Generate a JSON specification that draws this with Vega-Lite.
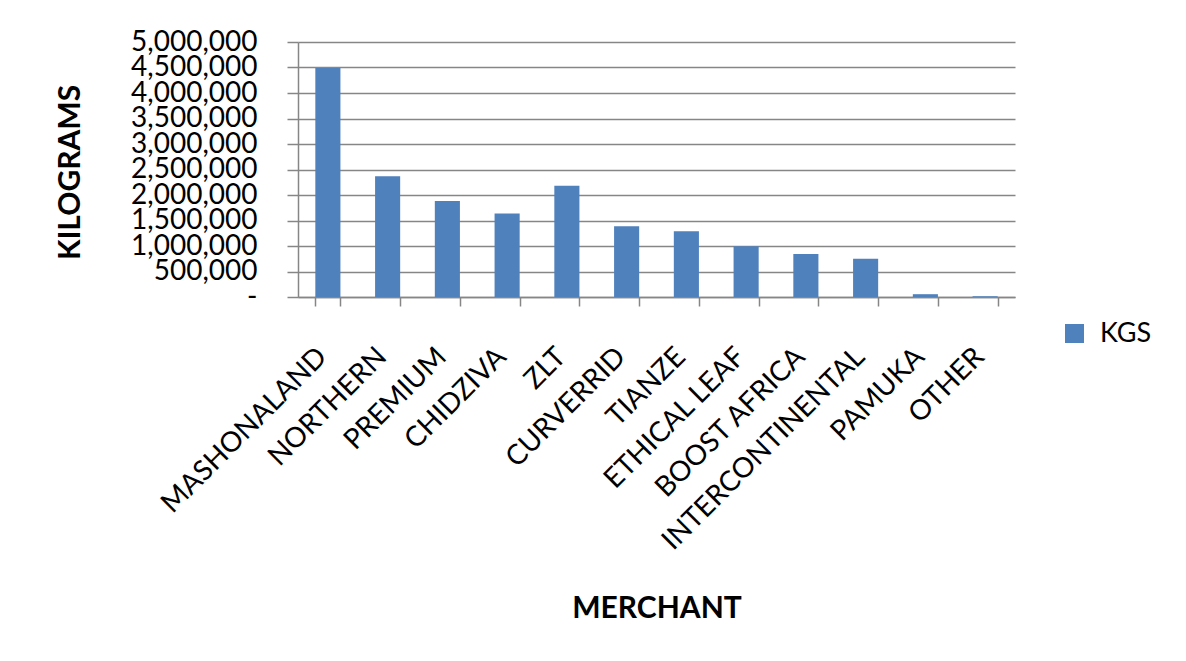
{
  "$schema": "https://vega.github.io/schema/vega-lite/v6.json",
  "width": 717,
  "height": 255,
  "autosize": {"type": "none"},
  "padding": {"left": 298, "top": 42, "right": 171, "bottom": 364},
  "background": "white",
  "data": {
    "values": [
      {"merchant": "MASHONALAND", "kgs": 4490000},
      {"merchant": "NORTHERN", "kgs": 2370000},
      {"merchant": "PREMIUM", "kgs": 1880000},
      {"merchant": "CHIDZIVA", "kgs": 1635000},
      {"merchant": "ZLT", "kgs": 2180000},
      {"merchant": "CURVERRID", "kgs": 1385000},
      {"merchant": "TIANZE", "kgs": 1290000},
      {"merchant": "ETHICAL LEAF", "kgs": 995000},
      {"merchant": "BOOST AFRICA", "kgs": 845000},
      {"merchant": "INTERCONTINENTAL", "kgs": 750000},
      {"merchant": "PAMUKA", "kgs": 55000},
      {"merchant": "OTHER", "kgs": 15000}
    ]
  },
  "mark": {"type": "bar"},
  "encoding": {
    "x": {
      "field": "merchant",
      "type": "nominal",
      "sort": null,
      "scale": {"paddingInner": 0.58, "paddingOuter": 0.29},
      "axis": {
        "title": "MERCHANT",
        "titleFont": "Lato",
        "titleFontSize": 30,
        "titleFontWeight": "bold",
        "titleColor": "black",
        "titleY": 320,
        "titleBaseline": "alphabetic",
        "labelFont": "Lato",
        "labelFontSize": 28,
        "labelColor": "black",
        "labelAngle": -45,
        "labelAlign": "right",
        "labelBaseline": "alphabetic",
        "labelPadding": 52,
        "labelOverlap": false,
        "labelLimit": 0,
        "tickBand": "extent",
        "tickSize": 9,
        "tickColor": "#868686",
        "tickWidth": 1.5,
        "domainColor": "#868686",
        "domainWidth": 1.5,
        "grid": false
      }
    },
    "y": {
      "field": "kgs",
      "type": "quantitative",
      "scale": {"domain": [0, 5000000], "nice": false},
      "axis": {
        "title": "KILOGRAMS",
        "titleFont": "Lato",
        "titleFontSize": 30,
        "titleFontWeight": "bold",
        "titleColor": "black",
        "titleX": -219,
        "titleY": 130,
        "titleAngle": -90,
        "titleAlign": "center",
        "titleBaseline": "alphabetic",
        "values": [0, 500000, 1000000, 1500000, 2000000, 2500000, 3000000, 3500000, 4000000, 4500000, 5000000],
        "labelExpr": "datum.value === 0 ? '-\u00a0\u00a0\u00a0' : format(datum.value, ',')",
        "labelFont": "Lato",
        "labelFontSize": 28,
        "labelColor": "black",
        "labelPadding": 30,
        "labelOverlap": false,
        "tickSize": 11,
        "tickColor": "#868686",
        "tickWidth": 1.5,
        "domainColor": "#868686",
        "domainWidth": 1.5,
        "grid": true,
        "gridColor": "#868686",
        "gridWidth": 1.5
      }
    },
    "color": {
      "datum": "KGS",
      "type": "nominal",
      "scale": {"range": ["#4F81BD"]},
      "legend": {
        "title": null,
        "orient": "none",
        "legendX": 763,
        "legendY": 278,
        "symbolType": "square",
        "symbolSize": 360,
        "symbolStrokeWidth": 0,
        "labelFont": "Lato",
        "labelFontSize": 27,
        "labelColor": "black",
        "labelOffset": 12,
        "padding": 0
      }
    }
  },
  "config": {
    "view": {"stroke": null}
  }
}
